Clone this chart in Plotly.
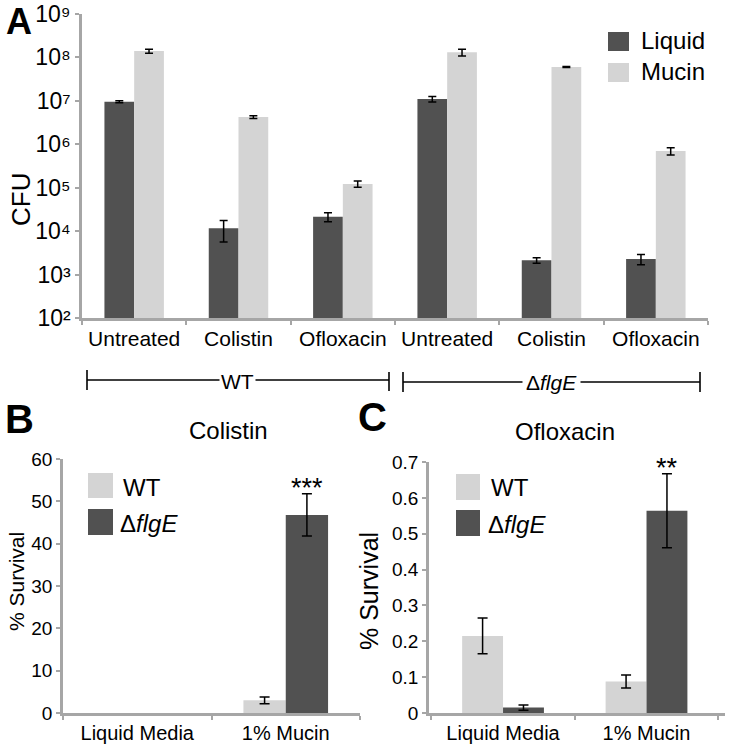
import plotly.graph_objects as go

W, H = 729, 750
FONT = "Liberation Sans, Arial, Helvetica, sans-serif"

# ---------------- Data ----------------
# Panel A
a_ids = ["WT-Untreated", "WT-Colistin", "WT-Ofloxacin",
         "dflgE-Untreated", "dflgE-Colistin", "dflgE-Ofloxacin"]
a_labels = ["Untreated", "Colistin", "Ofloxacin", "Untreated", "Colistin", "Ofloxacin"]
cfu_liquid = [9.5e6, 1.16e4, 2.15e4, 1.1e7, 2.13e3, 2.28e3]
cfu_liquid_err = [0.5e6, 6.0e3, 5.0e3, 1.6e6, 0.3e3, 0.6e3]
cfu_mucin = [1.4e8, 4.25e6, 1.22e5, 1.31e8, 6.0e7, 7.0e5]
cfu_mucin_err = [1.5e7, 0.3e6, 0.2e5, 2.3e7, 0.15e7, 1.3e5]
a_tickvals = [1e2, 1e3, 1e4, 1e5, 1e6, 1e7, 1e8, 1e9]
a_ticktext = ["10²", "10³", "10⁴", "10⁵", "10⁶", "10⁷", "10⁸", "10⁹"]

# Panel B (Colistin)
bc_categories = ["Liquid Media", "1% Mucin"]
col_wt = [None, 3.0]
col_wt_err = [0, 0.8]
col_flge = [None, 46.8]
col_flge_err = [0, 5.0]

# Panel C (Ofloxacin)
oflo_wt = [0.215, 0.088]
oflo_wt_err = [0.05, 0.018]
oflo_flge = [0.015, 0.564]
oflo_flge_err = [0.007, 0.103]
c_tickvals = [0, 0.1, 0.2, 0.3, 0.4, 0.5, 0.6, 0.7]
c_ticktext = ["0", "0.1", "0.2", "0.3", "0.4", "0.5", "0.6", "0.7"]

DARK = "#515151"
LIGHT = "#d4d4d4"
AXIS = "#a6a6a6"


def px(x):
    return x / W


def py(y):
    return 1 - y / H


fig = go.Figure()

# Panel A bars
fig.add_trace(go.Bar(x=a_ids, y=cfu_liquid, name="Liquid", marker_color=DARK,
                     marker_line_width=0,
                     error_y=dict(type="data", array=cfu_liquid_err, color="black",
                                  thickness=1.5, width=4),
                     xaxis="x", yaxis="y", showlegend=False))
fig.add_trace(go.Bar(x=a_ids, y=cfu_mucin, name="Mucin", marker_color=LIGHT,
                     marker_line_width=0,
                     error_y=dict(type="data", array=cfu_mucin_err, color="black",
                                  thickness=1.5, width=4),
                     xaxis="x", yaxis="y", showlegend=False))

# Panel B bars
fig.add_trace(go.Bar(x=bc_categories, y=col_wt, name="WT", marker_color=LIGHT,
                     marker_line_width=0,
                     error_y=dict(type="data", array=col_wt_err, color="black",
                                  thickness=1.5, width=5),
                     xaxis="x2", yaxis="y2", showlegend=False))
fig.add_trace(go.Bar(x=bc_categories, y=col_flge, name="ΔflgE", marker_color=DARK,
                     marker_line_width=0,
                     error_y=dict(type="data", array=col_flge_err, color="black",
                                  thickness=1.5, width=5),
                     xaxis="x2", yaxis="y2", showlegend=False))

# Panel C bars
fig.add_trace(go.Bar(x=bc_categories, y=oflo_wt, name="WT", marker_color=LIGHT,
                     marker_line_width=0,
                     error_y=dict(type="data", array=oflo_wt_err, color="black",
                                  thickness=1.5, width=5),
                     xaxis="x3", yaxis="y3", showlegend=False))
fig.add_trace(go.Bar(x=bc_categories, y=oflo_flge, name="ΔflgE", marker_color=DARK,
                     marker_line_width=0,
                     error_y=dict(type="data", array=oflo_flge_err, color="black",
                                  thickness=1.5, width=5),
                     xaxis="x3", yaxis="y3", showlegend=False))

axis_common = dict(showline=True, linecolor=AXIS, linewidth=2.5, showgrid=False,
                   zeroline=False, ticks="outside", tickcolor=AXIS, ticklen=4,
                   tickwidth=2, automargin=False, ticklabeloverflow="allow")

fig.update_layout(
    width=W, height=H,
    margin=dict(l=0, r=0, t=0, b=0),
    paper_bgcolor="white", plot_bgcolor="white",
    font=dict(family=FONT, color="black"),
    barmode="group",
    bargap=0.43, bargroupgap=0.0,
    xaxis=dict(domain=[px(82), px(708)], anchor="y", type="category",
               tickmode="array", tickvals=a_ids, ticktext=a_labels,
               tickson="boundaries", tickfont=dict(size=21),
               range=[-0.5, 5.5], **axis_common),
    yaxis=dict(domain=[py(318), py(14)], anchor="x", type="log", range=[2, 9.00001],
               tickmode="array", tickvals=a_tickvals, ticktext=a_ticktext,
               tickfont=dict(size=23), **axis_common),
    xaxis2=dict(domain=[px(63), px(360)], anchor="y2", type="category",
                tickson="boundaries", tickfont=dict(size=20),
                range=[-0.5, 1.5], **axis_common),
    yaxis2=dict(domain=[py(713), py(459)], anchor="x2", range=[0, 60], dtick=10,
                tickfont=dict(size=19), **axis_common),
    xaxis3=dict(domain=[px(429), px(725)], anchor="y3", type="category",
                tickson="boundaries", tickfont=dict(size=20),
                range=[-0.516, 1.547], **axis_common),
    yaxis3=dict(domain=[py(713), py(462)], anchor="x3", range=[0, 0.7],
                tickmode="array", tickvals=c_tickvals, ticktext=c_ticktext,
                tickfont=dict(size=19), **axis_common),
)

shapes = []
annotations = []


def text(x, y, t, size, **kw):
    d = dict(x=px(x), y=py(y), xref="paper", yref="paper", text=t, showarrow=False,
             font=dict(size=size, family=FONT, color="black"), borderpad=0,
             xanchor="center", yanchor="middle")
    d.update(kw)
    annotations.append(d)


def box(x0, y0, x1, y1, color):
    shapes.append(dict(type="rect", xref="paper", yref="paper",
                       x0=px(x0), x1=px(x1), y0=py(y1), y1=py(y0),
                       fillcolor=color, line=dict(width=0)))


def line(x0, y0, x1, y1, w=1.6):
    shapes.append(dict(type="line", xref="paper", yref="paper",
                       x0=px(x0), x1=px(x1), y0=py(y0), y1=py(y1),
                       line=dict(color="black", width=w)))


# Panel letters
text(19, 22, "<b>A</b>", 36)
text(19, 419, "<b>B</b>", 40)
text(372, 417, "<b>C</b>", 40)

# Axis titles
text(21, 200, "CFU", 26, textangle=-90)
text(16, 582, "% Survival", 21, textangle=-90)
text(369, 591, "% Survival", 25, textangle=-90)

# Panel titles
text(229, 430, "Colistin", 24)
text(565, 432, "Ofloxacin", 24)

# Significance
text(307, 488, "***", 27)
text(667, 468, "**", 27)

# Legend A
box(608, 32, 629, 51, DARK)
box(608, 63, 629, 82, LIGHT)
text(640, 41, "Liquid", 24, xanchor="left")
text(640, 72, "Mucin", 24, xanchor="left")

# Legend B
box(88, 473, 113, 498, LIGHT)
box(88, 509, 113, 535, DARK)
text(122, 487, "WT", 24, xanchor="left")
text(119, 523, "Δ<i>flgE</i>", 24, xanchor="left")

# Legend C
box(456, 474, 480, 500, LIGHT)
box(456, 510, 480, 536, DARK)
text(490, 488, "WT", 24, xanchor="left")
text(487, 524, "Δ<i>flgE</i>", 24, xanchor="left")

# Group brackets
line(87, 380, 389, 380)
line(87, 370, 87, 390)
line(389, 372, 389, 391)
text(238, 381, "WT", 21, bgcolor="white", borderpad=1)
line(403, 382, 700, 382)
line(403, 372, 403, 392)
line(700, 372, 700, 392)
text(551, 382, "Δ<i>flgE</i>", 21, bgcolor="white", borderpad=3)

fig.update_layout(shapes=shapes, annotations=annotations)

fig.write_html("out.html", config={"displayModeBar": False},
               post_script="document.body.style.margin='0';document.body.style.overflow='hidden';")
